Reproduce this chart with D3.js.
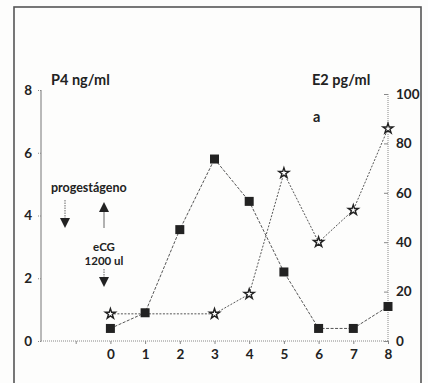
<!DOCTYPE html>
<html>
<head>
<meta charset="utf-8">
<script src="https://cdn.jsdelivr.net/npm/d3@7"></script>
<style>
  body { margin: 0; background: #fdfdfc; }
  svg { display: block; font-family: Lato, "Open Sans", sans-serif; font-weight: bold; }
</style>
</head>
<body>
<svg id="chart" width="428" height="383"></svg>
<script>
// days of treatment
var days = [0, 1, 2, 3, 4, 5, 6, 7, 8]
// P4 ng/ml (squares)
var p4 = [0.4, 0.9, 3.55, 5.8, 4.45, 2.2, 0.4, 0.4, 1.1]
// E2 pg/ml (stars)
var e2Days = [0, 3, 4, 5, 6, 7, 8]
var e2 = [11, 11, 19, 68, 40, 53, 86]

var leftTicks = [0, 2, 4, 6, 8]
var rightTicks = [0, 20, 40, 60, 80, 100]
var xTicks = [-1, 0, 1, 2, 3, 4, 5, 6, 7, 8]

var svg = d3.select('#chart')

var x = d3.scaleLinear().domain([-2, 8]).range([41, 388])
var yL = d3.scaleLinear().domain([0, 8]).range([341, 90])
var yR = d3.scaleLinear().domain([0, 100]).range([341, 94])

// frame
svg.append('rect')
    .attr('x', 14).attr('y', 7)
    .attr('width', 407).attr('height', 400)
    .attr('fill', 'none')
    .attr('stroke', '#555')
    .attr('stroke-width', 1.6)

function styleText (g) {
  g.selectAll('text')
      .attr('font-size', 13.5)
      .attr('font-family', 'Lato')
      .attr('font-weight', 'bold')
      .attr('fill', '#222')
}

// left axis
var left = svg.append('g')
    .attr('transform', 'translate(41,0)')
    .call(d3.axisLeft(yL).tickValues(leftTicks).tickSize(4).tickPadding(5).tickFormat(d3.format('d')))
left.select('.domain').attr('stroke', '#777').attr('d', 'M0,' + yL(8) + 'V' + yL(0))
left.selectAll('.tick line').attr('stroke', '#888').attr('stroke-dasharray', '1,1')
styleText(left)

// right axis
var right = svg.append('g')
    .attr('transform', 'translate(388,0)')
    .call(d3.axisRight(yR).tickValues(rightTicks).tickSize(-4).tickPadding(8))
right.select('.domain').attr('stroke', '#888').attr('stroke-dasharray', '1,1').attr('d', 'M0,' + yR(100) + 'V' + yR(0))
right.selectAll('.tick line').attr('stroke', '#888')
styleText(right)

// x axis
var bottom = svg.append('g')
    .attr('transform', 'translate(0,341)')
    .call(d3.axisBottom(x).tickValues(xTicks).tickSize(3).tickPadding(5)
      .tickFormat(function (d) { return d < 0 ? '' : d }))
bottom.select('.domain').attr('stroke', '#888').attr('stroke-dasharray', '1,1').attr('d', 'M' + x(-2) + ',0H' + x(8))
bottom.selectAll('.tick line').attr('stroke', '#888')
styleText(bottom)

// E2 line
var e2Pts = e2Days.map(function (d, i) { return [d, e2[i]] })
svg.append('path')
    .datum(e2Pts)
    .attr('fill', 'none')
    .attr('stroke', '#555')
    .attr('stroke-width', 1)
    .attr('stroke-dasharray', '2,1.5')
    .attr('d', d3.line().x(function (d) { return x(d[0]) }).y(function (d) { return yR(d[1]) }))

// P4 line
var p4Pts = days.map(function (d, i) { return [d, p4[i]] })
svg.append('path')
    .datum(p4Pts)
    .attr('fill', 'none')
    .attr('stroke', '#555')
    .attr('stroke-width', 1)
    .attr('stroke-dasharray', '3,1.5')
    .attr('d', d3.line().x(function (d) { return x(d[0]) }).y(function (d) { return yL(d[1]) }))

// P4 squares
svg.selectAll('.sq')
    .data(p4Pts)
  .enter().append('rect')
    .attr('class', 'sq')
    .attr('x', function (d) { return x(d[0]) - 4.5 })
    .attr('y', function (d) { return yL(d[1]) - 4.5 })
    .attr('width', 9).attr('height', 9)
    .attr('fill', '#222')

// E2 stars
svg.selectAll('.star')
    .data(e2Pts)
  .enter().append('path')
    .attr('class', 'star')
    .attr('transform', function (d) { return 'translate(' + x(d[0]) + ',' + yR(d[1]) + ')' })
    .attr('d', d3.symbol().type(d3.symbolStar).size(32))
    .attr('fill', '#fff')
    .attr('stroke', '#222')
    .attr('stroke-width', 1.4)

// labels
function label (txt, lx, ly, size, anchor) {
  svg.append('text')
      .attr('x', lx).attr('y', ly)
      .attr('font-size', size)
      .attr('text-anchor', anchor || 'start')
      .attr('fill', '#222')
      .text(txt)
}
label('P4 ng/ml', 51, 85, 14.5)
label('E2 pg/ml', 312, 85, 14.5)
label('a', 313, 122, 14.5)
label('progestágeno', 51, 192, 12.5)
label('eCG', 104, 251, 11.5, 'middle')
label('1200 ul', 104, 265, 11.5, 'middle')

// arrows
function arrow (ax, y1, y2, dashed) {
  var dir = y2 > y1 ? 1 : -1
  svg.append('line')
      .attr('x1', ax).attr('x2', ax)
      .attr('y1', y1).attr('y2', y2 - dir * 9)
      .attr('stroke', '#666')
      .attr('stroke-width', 1)
      .attr('stroke-dasharray', dashed ? '1.5,1' : null)
  svg.append('path')
      .attr('d', 'M' + (ax - 5) + ',' + (y2 - dir * 10) + 'L' + (ax + 5) + ',' + (y2 - dir * 10) + 'L' + ax + ',' + y2 + 'Z')
      .attr('fill', '#222')
}
arrow(65, 200, 228, true)
arrow(104, 228, 202, false)
arrow(104, 269, 287, true)
</script>
</body>
</html>
